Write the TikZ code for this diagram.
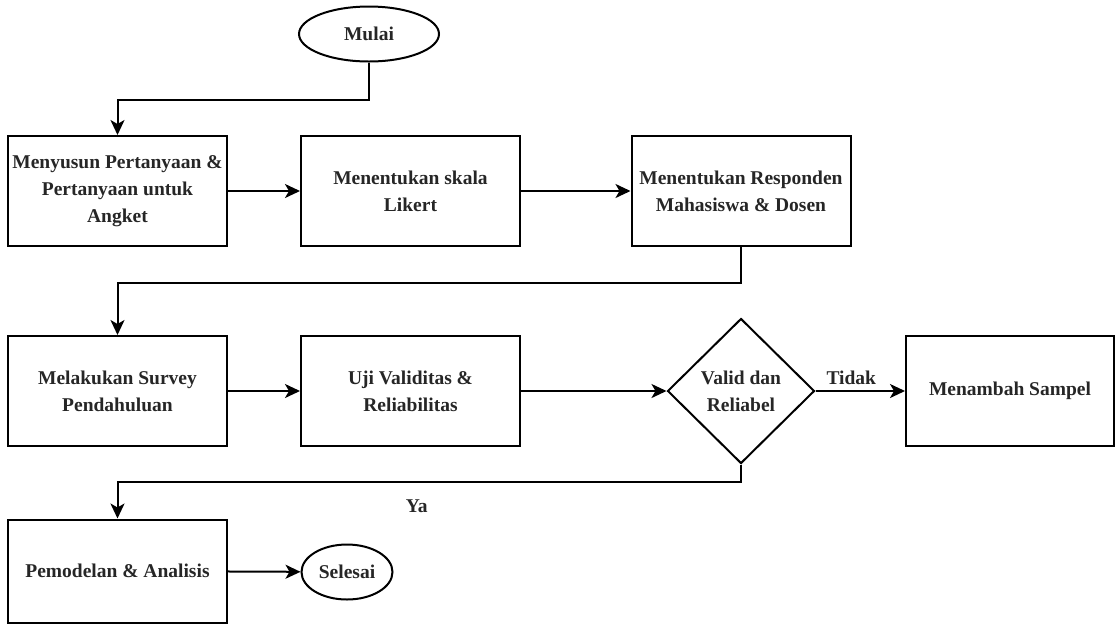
\documentclass[tikz,border=0pt]{standalone}
\usepackage{fontspec}
\setmainfont{Liberation Serif}
\usepackage{tikz}
\usetikzlibrary{arrows.meta,positioning,shapes.geometric}

\begin{document}
\begin{tikzpicture}[
    x=1pt, y=-1pt,
    every node/.style={font=\fontsize{19.5}{27}\selectfont\bfseries, text=black!85},
    box/.style={rectangle, draw, line width=2pt, minimum width=219pt, minimum height=110pt, align=center, inner sep=2pt},
    terminal/.style={ellipse, draw, line width=2pt, minimum width=#1, minimum height=55pt, inner sep=0pt},
    decision/.style={diamond, draw, line width=2pt, aspect=1, minimum width=147pt, minimum height=145pt, inner sep=0pt, align=center},
    arrow/.style={-{Stealth[length=15pt, width=14pt, inset=4pt]}, line width=2pt}
]
\useasboundingbox (0,0) rectangle (1118,625);

% Start
\node[terminal=140pt] (mulai) at (369,34) {Mulai};

% First row
\node[box] (susun) at (117.5,191) {Menyusun Pertanyaan \&\\Pertanyaan untuk\\Angket};
\node[box] (skala) at (410.5,191) {Menentukan skala\\Likert};
\node[box] (responden) at (741,191) {Menentukan Responden\\Mahasiswa \& Dosen};

% Second row
\node[box] (survey) at (117.5,391) {Melakukan Survey\\Pendahuluan};
\node[box] (uji) at (410.5,391) {Uji Validitas \&\\Reliabilitas};
\node[decision] (valid) at (741,391) {Valid dan\\Reliabel};
\node[box, minimum width=208pt] (sampel) at (1010,391) {Menambah Sampel};

% Last row
\node[box, minimum height=103pt] (model) at (117.5,571) {Pemodelan \& Analisis};
\node[terminal=91pt] (selesai) at (347,572) {Selesai};

% Arrows
\draw[arrow] (mulai.south) -- ++(0,37) -| (susun.north);
\draw[arrow] (susun) -- (skala);
\draw[arrow] (skala) -- (responden);
\draw[arrow] (responden.south) -- ++(0,36) -| (survey.north);
\draw[arrow] (survey) -- (uji);
\draw[arrow] (uji) -- (valid);
\draw[arrow] (valid) -- (sampel) node[pos=0.4, above=2pt] {Tidak};
\draw[arrow] (valid.south) -- ++(0,17) -| (model.north)
    node[pos=0.26, below=14pt] {Ya};
\draw[arrow] (model) -- (selesai);

\end{tikzpicture}
\end{document}
